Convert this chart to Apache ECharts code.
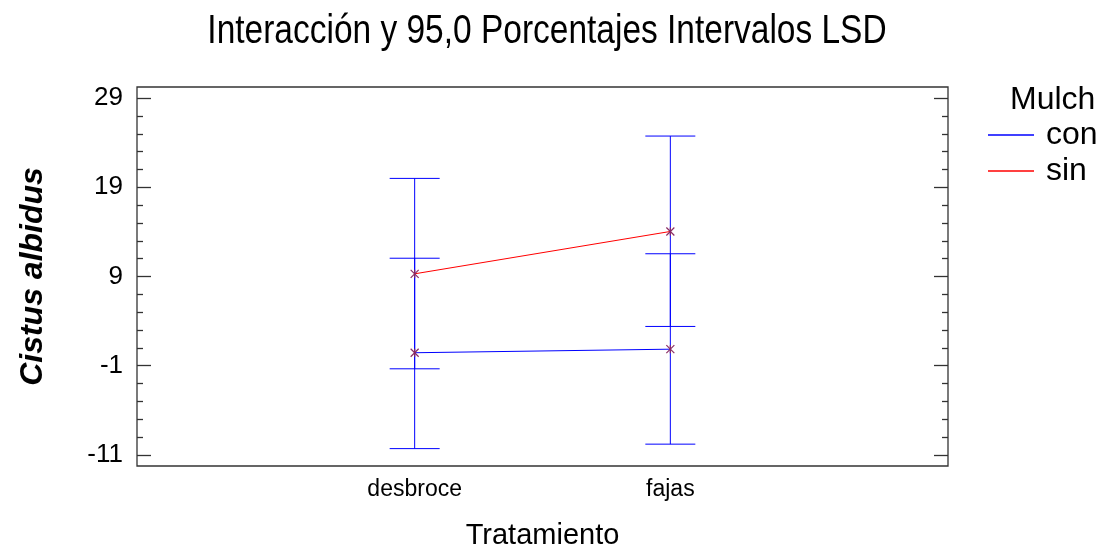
<!DOCTYPE html>
<html>
<head>
<meta charset="utf-8">
<script src="https://cdn.jsdelivr.net/npm/echarts@6/dist/echarts.min.js"></script>
<style>
  html, body { margin: 0; padding: 0; background: #ffffff; }
  #chart { width: 1098px; height: 555px; }
</style>
</head>
<body>
<div id="chart"></div>
<script>
// Treatment levels on the horizontal axis
const categories = ['desbroce', 'fajas'];
// Mulch groups
const groups = ['con', 'sin'];

// Group means and 95% LSD interval limits, per treatment
const conMean = [0.45, 0.85];
const conLow = [-10.3, -9.8];
const conHigh = [11.05, 11.55];
const sinMean = [9.3, 14.05];
const sinLow = [-1.35, 3.4];
const sinHigh = [20.0, 24.75];

// Vertical axis ticks
const yMajorTicks = [-11, -1, 9, 19, 29];
const yMinorTicks = [-9, -7, -5, -3, 1, 3, 5, 7, 11, 13, 15, 17, 21, 23, 25, 27];

const TITLE = 'Interacción y 95,0 Porcentajes Intervalos LSD';
const SANS = "'Liberation Sans', Arial, Helvetica, sans-serif";
const BLUE = '#0000ff';
const RED = '#ff0000';
const MARK = '#8a2a62';
const FRAME = '#333333';

const Y_MIN = -12.25, Y_MAX = 30.25;
const X_MIN = -0.086, X_MAX = 3.086;

const pos = categories.map((_, i) => i + 1);

const intervalData = [];
const meanData = [];
pos.forEach((x, i) => {
  intervalData.push([x, conLow[i], conHigh[i]]);
  intervalData.push([x, sinLow[i], sinHigh[i]]);
  meanData.push([x, conMean[i]]);
  meanData.push([x, sinMean[i]]);
});

function yAxisBase(extra) {
  return Object.assign({
    type: 'value',
    min: Y_MIN,
    max: Y_MAX,
    axisLine: { show: false, onZero: false },
    splitLine: { show: false },
    axisLabel: { show: false },
    axisTick: { show: false }
  }, extra);
}

const tickStyle = { color: FRAME, width: 1.3 };

const chart = echarts.init(document.getElementById('chart'), null, { renderer: 'canvas' });

chart.setOption({
  animation: false,
  backgroundColor: '#ffffff',
  title: [
    {
      text: 'Mulch',
      left: 1005,
      top: 79,
      textStyle: { fontFamily: SANS, fontSize: 32, fontWeight: 'normal', color: '#000' }
    }
  ],
  graphic: [
    {
      // chart title, set in a condensed width
      type: 'text',
      x: 547,
      y: 12,
      scaleX: 0.837,
      silent: true,
      style: {
        text: TITLE,
        fontFamily: SANS,
        fontSize: 40,
        fill: '#000',
        align: 'center',
        verticalAlign: 'top'
      }
    }
  ],
  legend: {
    orient: 'vertical',
    left: 983,
    top: 114,
    itemWidth: 46,
    itemHeight: 1.5,
    itemGap: 4,
    icon: 'rect',
    data: [
      { name: 'con', itemStyle: { color: BLUE } },
      { name: 'sin', itemStyle: { color: RED } }
    ],
    textStyle: { fontFamily: SANS, fontSize: 32, lineHeight: 32, color: '#000', padding: [0, 0, 0, 7] }
  },
  grid: {
    left: 137, right: 150, top: 87, bottom: 89,
    containLabel: false,
    outerBoundsMode: 'none',
    show: true,
    borderColor: FRAME,
    borderWidth: 1.3,
    backgroundColor: 'transparent'
  },
  xAxis: {
    type: 'value',
    min: X_MIN,
    max: X_MAX,
    axisLine: { show: false, onZero: false },
    axisTick: { show: false },
    splitLine: { show: false },
    axisLabel: {
      customValues: pos,
      formatter: v => categories[Math.round(v) - 1] || '',
      fontFamily: SANS, fontSize: 23, color: '#000', margin: 12
    },
    name: 'Tratamiento',
    nameLocation: 'middle',
    nameGap: 55,
    nameTextStyle: { fontFamily: SANS, fontSize: 29, color: '#000' }
  },
  yAxis: [
    yAxisBase({
      position: 'left',
      axisTick: { show: true, inside: true, length: 14, customValues: yMajorTicks, lineStyle: tickStyle },
      axisLabel: { show: true, customValues: yMajorTicks, fontFamily: SANS, fontSize: 26, color: '#000', margin: 14 },
      name: 'Cistus albidus',
      nameLocation: 'middle',
      nameGap: 88,
      nameTextStyle: { fontFamily: SANS, fontSize: 32, fontStyle: 'italic', fontWeight: 'bold', color: '#000' }
    }),
    yAxisBase({
      position: 'left',
      axisTick: { show: true, inside: true, length: 6, customValues: yMinorTicks, lineStyle: tickStyle }
    }),
    yAxisBase({
      position: 'right',
      axisTick: { show: true, inside: true, length: 14, customValues: yMajorTicks, lineStyle: tickStyle }
    }),
    yAxisBase({
      position: 'right',
      axisTick: { show: true, inside: true, length: 6, customValues: yMinorTicks, lineStyle: tickStyle }
    })
  ],
  series: [
    {
      type: 'custom',
      name: 'LSD',
      silent: true,
      z: 1,
      data: intervalData,
      renderItem: function (params, api) {
        const x = api.value(0);
        const lo = api.coord([x, api.value(1)]);
        const hi = api.coord([x, api.value(2)]);
        const half = 25;
        const style = { stroke: BLUE, lineWidth: 1 };
        return {
          type: 'group',
          children: [
            { type: 'line', shape: { x1: lo[0], y1: lo[1], x2: hi[0], y2: hi[1] }, style },
            { type: 'line', shape: { x1: hi[0] - half, y1: hi[1], x2: hi[0] + half, y2: hi[1] }, style },
            { type: 'line', shape: { x1: lo[0] - half, y1: lo[1], x2: lo[0] + half, y2: lo[1] }, style }
          ]
        };
      }
    },
    {
      type: 'line',
      name: 'con',
      data: pos.map((x, i) => [x, conMean[i]]),
      symbol: 'none',
      lineStyle: { color: BLUE, width: 1 },
      itemStyle: { color: BLUE },
      z: 2
    },
    {
      type: 'line',
      name: 'sin',
      data: pos.map((x, i) => [x, sinMean[i]]),
      symbol: 'none',
      lineStyle: { color: RED, width: 1 },
      itemStyle: { color: RED },
      z: 2
    },
    {
      type: 'custom',
      name: 'means',
      silent: true,
      z: 3,
      data: meanData,
      renderItem: function (params, api) {
        const p = api.coord([api.value(0), api.value(1)]);
        const r = 4;
        const style = { stroke: MARK, lineWidth: 1.2 };
        return {
          type: 'group',
          children: [
            { type: 'line', shape: { x1: p[0] - r, y1: p[1] - r, x2: p[0] + r, y2: p[1] + r }, style },
            { type: 'line', shape: { x1: p[0] - r, y1: p[1] + r, x2: p[0] + r, y2: p[1] - r }, style },
            { type: 'line', shape: { x1: p[0], y1: p[1] - r, x2: p[0], y2: p[1] + r }, style }
          ]
        };
      }
    }
  ]
});
</script>
</body>
</html>
